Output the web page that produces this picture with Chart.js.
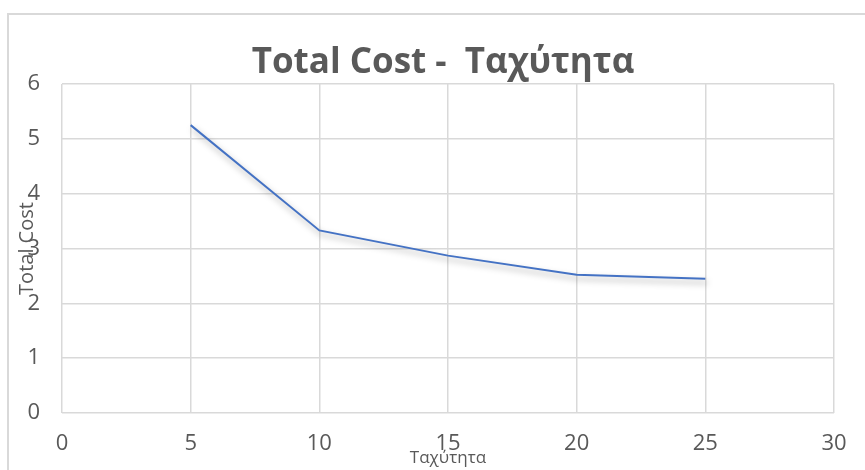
<!DOCTYPE html>
<html>
<head>
<meta charset="utf-8">
<script src="https://cdn.jsdelivr.net/npm/chart.js@4/dist/chart.umd.min.js"></script>
<style>
  html, body { margin: 0; padding: 0; background: #ffffff; }
  #wrap { position: relative; width: 865px; height: 470px; }
</style>
</head>
<body>
<div id="wrap"><canvas id="c" width="865" height="470"></canvas></div>
<script>
// Speed (Ταχύτητα) vs total cost
const speeds = [5, 10, 15, 20, 25];
const totalCost = [5.25, 3.33, 2.87, 2.52, 2.45];
const xTicks = [0, 5, 10, 15, 20, 25, 30];
const yTicks = [0, 1, 2, 3, 4, 5, 6];

const chartTitle = 'Total Cost -  Ταχύτητα';
const xTitle = 'Ταχύτητα';
const yTitle = 'Total Cost';

const GREY_TEXT = '#595959';
const GRID = '#d9d9d9';

// light frame around the whole chart
const framePlugin = {
  id: 'frame',
  beforeDraw(chart) {
    const ctx = chart.ctx;
    ctx.save();
    ctx.fillStyle = '#ffffff';
    ctx.fillRect(0, 0, chart.width, chart.height);
    ctx.strokeStyle = GRID;
    ctx.lineWidth = 2;
    ctx.strokeRect(8, 14, chart.width + 20, chart.height + 20);
    ctx.restore();
  }
};

// soft drop shadow under the series line
const shadowPlugin = {
  id: 'lineShadow',
  beforeDatasetDraw(chart) {
    const ctx = chart.ctx;
    ctx.save();
    ctx.shadowColor = 'rgba(0,0,0,0.35)';
    ctx.shadowBlur = 6;
    ctx.shadowOffsetX = 2;
    ctx.shadowOffsetY = 4;
  },
  afterDatasetDraw(chart) {
    chart.ctx.restore();
  }
};

// chart title centred above the plot
const headerPlugin = {
  id: 'header',
  afterDraw(chart) {
    const ctx = chart.ctx;
    ctx.save();
    ctx.font = 'bold 35px "Open Sans", sans-serif';
    ctx.fillStyle = GREY_TEXT;
    ctx.textAlign = 'center';
    ctx.textBaseline = 'alphabetic';
    ctx.fillText(chartTitle, 443, chart.chartArea.top - 11);
    ctx.restore();
  }
};

new Chart(document.getElementById('c'), {
  type: 'scatter',
  data: {
    datasets: [{
      label: yTitle,
      data: speeds.map((s, i) => ({ x: s, y: totalCost[i] })),
      showLine: true,
      borderColor: '#4472C4',
      backgroundColor: '#4472C4',
      borderWidth: 2,
      pointRadius: 0,
      pointHoverRadius: 0,
      tension: 0,
      fill: false
    }]
  },
  options: {
    responsive: false,
    animation: false,
    devicePixelRatio: 1,
    layout: { padding: { top: 84, right: 31, bottom: 0, left: 0 } },
    plugins: {
      legend: { display: false },
      title: { display: false },
      tooltip: { enabled: false }
    },
    scales: {
      x: {
        type: 'linear',
        min: xTicks[0],
        max: xTicks[xTicks.length - 1],
        afterBuildTicks(scale) { scale.ticks = xTicks.map(v => ({ value: v })); },
        afterFit(scale) { scale.height = 57; },
        ticks: {
          color: GREY_TEXT,
          font: { family: '"Open Sans", sans-serif', size: 22 },
          padding: 18,
          maxRotation: 0
        },
        grid: { color: GRID, lineWidth: 1.5, drawTicks: false },
        border: { display: false },
        title: {
          display: true,
          text: xTitle,
          color: GREY_TEXT,
          font: { family: '"Open Sans", sans-serif', size: 17 },
          padding: { top: 0, bottom: 2 }
        }
      },
      y: {
        type: 'linear',
        min: yTicks[0],
        max: yTicks[yTicks.length - 1],
        afterBuildTicks(scale) { scale.ticks = yTicks.map(v => ({ value: v })); },
        afterFit(scale) { scale.width = 62; },
        ticks: {
          color: GREY_TEXT,
          font: { family: '"Open Sans", sans-serif', size: 22 },
          padding: 22
        },
        grid: { color: GRID, lineWidth: 1.5, drawTicks: false },
        border: { display: false },
        title: {
          display: true,
          text: yTitle,
          color: GREY_TEXT,
          font: { family: '"Open Sans", sans-serif', size: 20 },
          padding: { top: 15, bottom: 0 }
        }
      }
    }
  },
  plugins: [framePlugin, shadowPlugin, headerPlugin]
});
</script>
</body>
</html>
